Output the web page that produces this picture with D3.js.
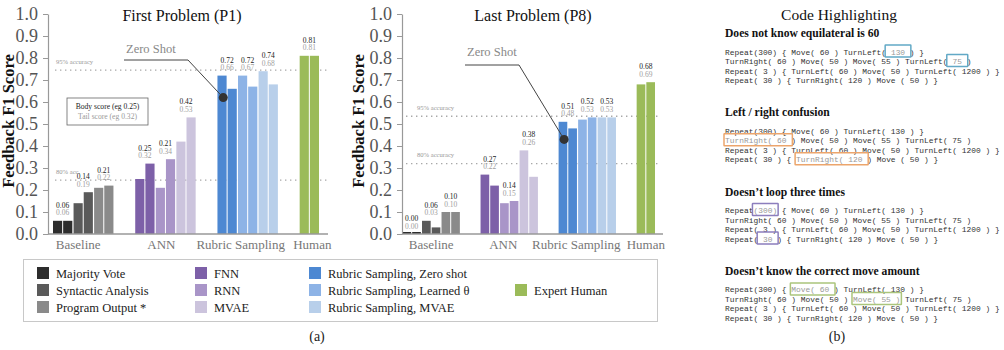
<!DOCTYPE html>
<html><head><meta charset="utf-8">
<script src="https://cdn.jsdelivr.net/npm/d3@7"></script>
<style>
body{margin:0;background:#fff}
svg{display:block}
text{font-family:"Liberation Serif","Times New Roman",serif}
text.code, text.code tspan{font-family:"Liberation Mono","Courier New",monospace}
</style>
</head><body>
<svg id="c" width="1004" height="350"></svg>
<script>
// ---------- data ----------
const methods = ["Majority Vote","Syntactic Analysis","Program Output *","FNN","RNN","MVAE",
  "Rubric Sampling, Zero shot","Rubric Sampling, Learned θ","Rubric Sampling, MVAE","Expert Human"];
const methodGroup = ["Baseline","Baseline","Baseline","ANN","ANN","ANN",
  "Rubric Sampling","Rubric Sampling","Rubric Sampling","Human"];
const groups = ["Baseline","ANN","Rubric Sampling","Human"];
const colors = ["#2d2d2d","#5a5a5a","#8a8a8a","#7d60a8","#a995c8","#ccc4dd",
  "#4d88d2","#8db3e6","#b8cfea","#9bbb59"];
const p1Body = [0.06,0.14,0.21,0.25,0.21,0.42,0.72,0.72,0.74,0.81];
const p1Tail = [0.06,0.19,0.22,0.32,0.34,0.53,0.66,0.67,0.68,0.81];
const p8Body = [0.00,0.06,0.10,0.27,0.14,0.38,0.51,0.52,0.53,0.68];
const p8Tail = [0.00,0.03,0.10,0.22,0.15,0.26,0.48,0.53,0.53,0.69];
const p1Acc = [0.745, 0.245];
const p8Acc = [0.535, 0.32];
const p1AccLabels = ["95% accuracy","80% acc."];
const p8AccLabels = ["95% accuracy","80% accuracy"];
const zeroShotDot = [0.62, 0.43];
const yTicks = [0,0.1,0.2,0.3,0.4,0.5,0.6,0.7,0.8,0.9,1.0];

const codeLines = [
  "Repeat(300) { Move( 60 ) TurnLeft( 130 ) }",
  "TurnRight( 60 ) Move( 50 ) Move( 55 ) TurnLeft( 75 )",
  "Repeat( 3 ) { TurnLeft( 60 ) Move( 50 ) TurnLeft( 1200 ) }",
  "Repeat( 30 ) { TurnRight( 120 ) Move ( 50 ) }"];
const sectionTitles = ["Does not know equilateral is 60","Left / right confusion",
  "Doesn\u2019t loop three times","Doesn\u2019t know the correct move amount"];
const sectionColors = ["#62a9c6","#eca56c","#8c7ebd","#abc57c"];
const highlights = [
  [[0,34,39],[1,47,51]],
  [[1,0,14],[3,15,30]],
  [[0,6,11],[3,7,11]],
  [[0,14,23],[1,27,37]]];

// ---------- drawing ----------
const svg = d3.select("#c");
const slotOf = methods.map((m,i)=> groups.indexOf(methodGroup[i])*4 +
   methodGroup.slice(0,i).filter(g=>g===methodGroup[i]).length);

function drawChart(cfg){
  const g = svg.append("g");
  const y = d3.scaleLinear().domain([0,1]).range([234,14]);
  const x = d3.scaleBand().domain(d3.range(13)).range(cfg.band).paddingInner(0.06);
  // reference lines (behind bars)
  cfg.acc.forEach((v,i)=>{
    g.append("line").attr("x1",cfg.refX[0]).attr("x2",cfg.refX[1])
      .attr("y1",y(v)).attr("y2",y(v))
      .attr("stroke","#a8a8a8").attr("stroke-width",1.4).attr("stroke-dasharray","1.4,3.6");
    g.append("text").attr("x",cfg.accLabelX).attr("y",y(v)-6.5)
      .attr("font-size",6.6).attr("fill","#999").text(cfg.accLabels[i]);
  });
  // bars
  const bw = x.bandwidth();
  methods.forEach((m,i)=>{
    const x0 = x(slotOf[i]);
    [cfg.body[i], cfg.tail[i]].forEach((v,k)=>{
      const h = Math.max(y(0)-y(v), 2);
      g.append("rect").attr("x", x0 + k*(bw/2+0.5)).attr("width", bw/2-0.5)
        .attr("y", y(0)-h).attr("height", h).attr("fill", colors[i]);
    });
    const top = y(Math.max(cfg.body[i], cfg.tail[i]));
    const cx = x0 + bw/2;
    g.append("text").attr("x",cx).attr("y",top-5.5).attr("text-anchor","middle")
      .attr("font-size",7.5).attr("fill","#a0a0a0").text(d3.format(".2f")(cfg.tail[i]));
    g.append("text").attr("x",cx).attr("y",top-13).attr("text-anchor","middle")
      .attr("font-size",7.5).attr("fill","#222").text(d3.format(".2f")(cfg.body[i]));
  });
  // y axis
  const ax = g.append("g").attr("transform",`translate(${cfg.axisX},0)`)
    .call(d3.axisLeft(y).tickValues(yTicks).tickFormat(d3.format(".1f")).tickSize(5).tickSizeOuter(0).tickPadding(5));
  ax.select(".domain").attr("stroke","#999").attr("stroke-width",1.2);
  ax.selectAll(".tick line").attr("stroke","#999");
  ax.selectAll(".tick text").attr("font-size",18).attr("fill","#555");
  // x axis baseline
  g.append("line").attr("x1",cfg.axisX).attr("x2",cfg.xEnd).attr("y1",y(0)).attr("y2",y(0))
    .attr("stroke","#999").attr("stroke-width",1.4);
  groups.forEach((gr,gi)=>{
    const idx = methods.map((m,i)=>i).filter(i=>methodGroup[i]===gr);
    const a = x(slotOf[idx[0]]), b = x(slotOf[idx[idx.length-1]]) + bw;
    g.append("text").attr("x",(a+b)/2 + cfg.groupShift[gi]).attr("y",249).attr("text-anchor","middle")
      .attr("font-size",13).attr("fill","#777").text(gr);
  });
  // titles
  g.append("text").attr("x",cfg.titleX).attr("y",21).attr("text-anchor","middle")
    .attr("font-size",16).attr("fill","#111").text(cfg.title);
  g.append("text").attr("transform",`translate(${cfg.yTitleX},121) rotate(-90)`)
    .attr("text-anchor","middle").attr("font-size",16.5).attr("font-weight","bold")
    .attr("fill","#111").text("Feedback F1 Score");
  // zero-shot annotation
  const zi = 6;
  const dx = x(slotOf[zi]) + bw*0.3, dy = y(cfg.dot);
  g.append("polyline").attr("points",`${cfg.zsLine[0]},${cfg.zsLine[2]} ${cfg.zsLine[1]},${cfg.zsLine[2]} ${dx},${dy}`)
    .attr("fill","none").attr("stroke","#444").attr("stroke-width",1);
  g.append("circle").attr("cx",dx).attr("cy",dy).attr("r",4.5).attr("fill","#333");
  g.append("text").attr("x",cfg.zsText[0]).attr("y",cfg.zsText[1]).attr("font-size",12.5)
    .attr("fill","#888").text("Zero Shot");
  return {g,y,x};
}

const L = drawChart({band:[53,319], axisX:48, xEnd:328, refX:[55,330], acc:p1Acc, accLabels:p1AccLabels,
  accLabelX:56, body:p1Body, tail:p1Tail, title:"First Problem (P1)", titleX:182, yTitleX:14,
  dot:zeroShotDot[0], zsLine:[124,188,60], zsText:[126,53], groupShift:[-5,-4,-7,3]});
// body/tail key box
L.g.append("rect").attr("x",67).attr("y",98).attr("width",81).attr("height",27)
  .attr("fill","#fff").attr("stroke","#666").attr("stroke-width",0.8);
L.g.append("text").attr("x",107.5).attr("y",109).attr("text-anchor","middle").attr("font-size",7.6)
  .attr("fill","#222").text("Body score (eg 0.25)");
L.g.append("text").attr("x",107.5).attr("y",119).attr("text-anchor","middle").attr("font-size",7.6)
  .attr("fill","#999").text("Tail score (eg 0.32)");

drawChart({band:[402.5,655], axisX:402, xEnd:663, refX:[406,660], acc:p8Acc, accLabels:p8AccLabels,
  accLabelX:417, body:p8Body, tail:p8Tail, title:"Last Problem (P8)", titleX:533, yTitleX:364,
  dot:zeroShotDot[1], zsLine:[465,519,65], zsText:[467,56], groupShift:[0,-6,-11,0]});

// legend
const lg = svg.append("g");
lg.append("rect").attr("x",23.5).attr("y",259.5).attr("width",634).attr("height",62)
  .attr("fill","none").attr("stroke","#c8c8c8");
const legCol = [0,0,0,1,1,1,2,2,2,3];
const legRow = [0,1,2,0,1,2,0,1,2,1];
const colSw = [37,195,309,515];
const rowY = [273,290,307];
methods.forEach((m,i)=>{
  const sx = colSw[legCol[i]], ry = rowY[legRow[i]];
  lg.append("rect").attr("x",sx).attr("y",ry-6).attr("width",12).attr("height",12).attr("fill",colors[i]);
  lg.append("text").attr("x",sx+19).attr("y",ry+4.5).attr("font-size",12.5).attr("fill","#222").text(m);
});
svg.append("text").attr("x",317).attr("y",341).attr("text-anchor","middle").attr("font-size",14)
  .attr("fill","#222").text("(a)");

// code highlighting
const cg = svg.append("g");
cg.append("text").attr("x",839).attr("y",20).attr("text-anchor","middle").attr("font-size",15.5)
  .attr("fill","#111").text("Code Highlighting");
const cx0 = 725, fs = 7.9, cw = fs*0.6;
sectionTitles.forEach((t,s)=>{
  const hy = 37 + s*79.3;
  cg.append("text").attr("x",cx0).attr("y",hy).attr("font-size",11.6).attr("font-weight","bold")
    .attr("fill","#111").text(t);
  codeLines.forEach((line,li)=>{
    const by = hy + 17.5 + li*9.5;
    const hl = highlights[s].filter(h=>h[0]===li);
    const txt = cg.append("text").attr("class","code").attr("x",cx0).attr("y",by)
      .attr("font-size",fs).attr("fill","#333").style("white-space","pre");
    let pos = 0;
    const segs = [];
    hl.sort((a,b)=>a[1]-b[1]).forEach(h=>{
      if(h[1]>pos) segs.push([line.slice(pos,h[1]),false,pos]);
      segs.push([line.slice(h[1],h[2]),true,h[1]]);
      pos = h[2];
    });
    if(pos<line.length) segs.push([line.slice(pos),false,pos]);
    segs.forEach(sg=>{
      txt.append("tspan").attr("x",cx0+sg[2]*cw).attr("fill",sg[1]?"#999":"#333").text(sg[0]);
    });
    hl.forEach(h=>{
      cg.append("rect").attr("x",cx0+h[1]*cw-1).attr("y",by-9.5)
        .attr("width",(h[2]-h[1])*cw+2).attr("height",12)
        .attr("fill","none").attr("stroke",sectionColors[s]).attr("stroke-width",1.5).attr("rx",0.5);
    });
  });
});
svg.append("text").attr("x",837).attr("y",341).attr("text-anchor","middle").attr("font-size",14)
  .attr("fill","#222").text("(b)");
</script>
</body></html>
